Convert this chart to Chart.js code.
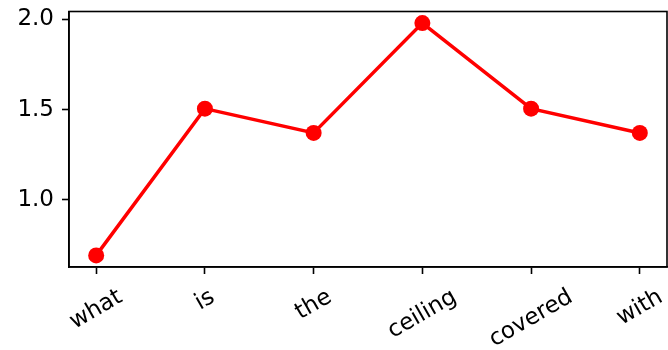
<!DOCTYPE html>
<html>
<head>
<meta charset="utf-8">
<script src="https://cdn.jsdelivr.net/npm/chart.js@4"></script>
<style>
  html, body { margin: 0; padding: 0; background: #fff; }
  #wrap { width: 668px; height: 350px; position: relative; }
</style>
</head>
<body>
<div id="wrap"><canvas id="c"></canvas></div>
<script>
// Words along the x axis and the value plotted for each
const categories = ['what', 'is', 'the', 'ceiling', 'covered', 'with'];
const values = [0.69, 1.505, 1.37, 1.98, 1.505, 1.37];
const yTicks = [1.0, 1.5, 2.0];

const FONT = '"DejaVu Sans", sans-serif';
const FONT_SIZE = 23;

// data range plus a 5% margin on each side
const yMinData = Math.min(...values), yMaxData = Math.max(...values);
const ySpan = yMaxData - yMinData;
const xCount = categories.length;

// Draws the frame and the rotated, centred category labels
const framePlugin = {
  id: 'frame',
  afterDraw(chart) {
    const { ctx, chartArea: a, scales } = chart;
    ctx.save();
    ctx.strokeStyle = '#000';
    ctx.lineWidth = 1.6;
    ctx.strokeRect(a.left, a.top, a.right - a.left, a.bottom - a.top);

    ctx.fillStyle = '#000';
    ctx.font = FONT_SIZE + 'px ' + FONT;
    ctx.textAlign = 'center';
    ctx.textBaseline = 'middle';
    const ang = Math.PI / 6;
    const h = FONT_SIZE * 1.16;
    const top = a.bottom + 17;
    categories.forEach((label, i) => {
      const x = scales.x.getPixelForValue(i);
      const w = ctx.measureText(label).width;
      const H = w * Math.sin(ang) + h * Math.cos(ang);
      ctx.save();
      ctx.translate(x, top + H / 2);
      ctx.rotate(-ang);
      ctx.fillText(label, 0, 0);
      ctx.restore();
    });
    ctx.restore();
  }
};

new Chart(document.getElementById('c'), {
  type: 'line',
  data: {
    datasets: [{
      data: values.map((v, i) => ({ x: i, y: v })),
      borderColor: '#ff0000',
      backgroundColor: '#ff0000',
      borderWidth: 3.5,
      pointRadius: 8,
      pointHoverRadius: 8,
      pointBorderWidth: 0,
      tension: 0
    }]
  },
  options: {
    responsive: true,
    maintainAspectRatio: false,
    animation: false,
    events: [],
    layout: { autoPadding: false, padding: { left: 0, right: 1, top: 11.5, bottom: 0 } },
    plugins: { legend: { display: false }, tooltip: { enabled: false } },
    scales: {
      x: {
        type: 'linear',
        min: -0.05 * (xCount - 1),
        max: (xCount - 1) * 1.05,
        afterBuildTicks(scale) { scale.ticks = categories.map((_, i) => ({ value: i })); },
        afterFit(scale) {
          scale.height = 350 - 267;
          scale.paddingLeft = 0; scale.paddingRight = 0;
        },
        ticks: { display: false },
        grid: { drawOnChartArea: false, drawTicks: true, tickLength: 7, tickWidth: 1.6, tickColor: '#000' },
        border: { display: true, color: '#000', width: 1.6 }
      },
      y: {
        min: yMinData - 0.05 * ySpan,
        max: yMaxData + 0.05 * ySpan,
        afterBuildTicks(scale) { scale.ticks = yTicks.map(v => ({ value: v })); },
        afterFit(scale) {
          scale.width = 69;
          scale.paddingTop = 0; scale.paddingBottom = 0;
        },
        ticks: {
          color: '#000',
          padding: 8,
          font: { family: FONT, size: FONT_SIZE },
          callback: v => Number(v).toFixed(1)
        },
        grid: { drawOnChartArea: false, drawTicks: true, tickLength: 7, tickWidth: 1.6, tickColor: '#000' },
        border: { display: true, color: '#000', width: 1.6 }
      }
    }
  },
  plugins: [framePlugin]
});
</script>
</body>
</html>
